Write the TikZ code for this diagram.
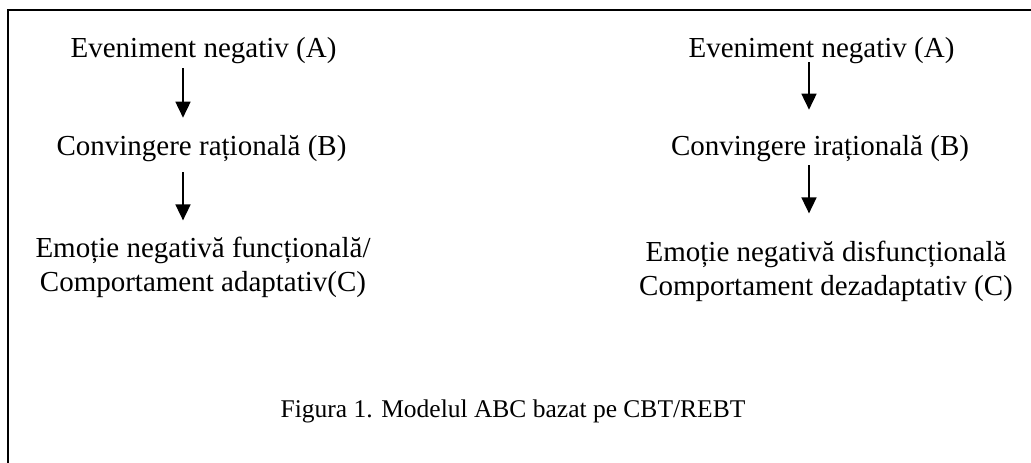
\documentclass[tikz,border=0pt]{standalone}
\usepackage{fontspec}
\setmainfont{Liberation Serif}
\usetikzlibrary{arrows.meta}

\begin{document}
\begin{tikzpicture}[x=1pt, y=-1pt,
    every node/.style={inner sep=0pt, font=\fontsize{29}{34}\selectfont},
    txt/.style={anchor=base, align=center},
    arr/.style={-{Triangle[width=15pt,length=16pt]}, line width=1.7pt},
    frame/.style={line width=2pt}]
    \useasboundingbox (0,0) rectangle (1031,463);

    \draw[frame] (8,463) |- (1031,10);

    \coordinate (xl) at (183,0);
    \coordinate (xr) at (809,0);

    % rational side
    \node[txt] (evL) at (203.5,57) {Eveniment negativ (A)};
    \node[txt] (convL) at (201.5,155) {Convingere rațională (B)};
    \node[txt] (emoL) at (203,291) {Emoție negativă funcțională/\\Comportament adaptativ(C)};

    \draw[arr, shorten <=4.7pt, shorten >=17pt] (evL.south -| xl) -- (convL.north -| xl);
    \draw[arr, shorten <=11pt, shorten >=16pt] (convL.south -| xl) -- (emoL.north -| xl);

    % irrational side
    \node[txt] (evR) at (821.5,57) {Eveniment negativ (A)};
    \node[txt] (convR) at (820,155) {Convingere irațională (B)};
    \node[txt] (emoR) at (826,295) {Emoție negativă disfuncțională\\Comportament dezadaptativ (C)};

    \draw[arr, shorten <=-1.3pt, shorten >=25pt] (evR.south -| xr) -- (convR.north -| xr);
    \draw[arr, shorten <=4pt, shorten >=27pt] (convR.south -| xr) -- (emoR.north -| xr);

    \node[txt, font=\fontsize{25.5}{30}\selectfont] (fig) at (513,417) {Figura 1. Modelul ABC bazat pe CBT/REBT};
\end{tikzpicture}
\end{document}
